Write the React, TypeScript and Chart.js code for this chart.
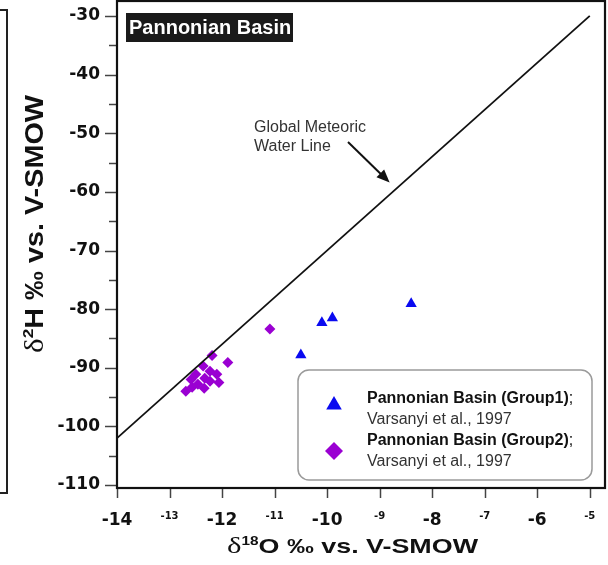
import React, { useEffect, useRef } from 'react';
import { Chart, registerables } from 'chart.js';
Chart.register(...registerables);

// Axis ranges / ticks
const xMin = -14;
const xMax = -4.71;
const yMin = -110.5;
const yMax = -27.45;
const xTickStep = 1;
const yTickStep = 5;

// Global Meteoric Water Line (δ2H = 8·δ18O + 10)
const gmwlX = [-14, -5];
const gmwlY = [-102, -30];

// Pannonian Basin (Group1)
const group1X = [-8.4, -9.9, -10.1, -10.5];
const group1Y = [-79.1, -81.5, -82.3, -87.8];

// Pannonian Basin (Group2)
const group2X = [-11.09, -12.19, -11.89, -12.36, -12.23, -12.10, -12.50, -12.33, -12.59, -12.06, -12.23, -12.69, -12.57, -12.34, -12.46];
const group2Y = [-83.4, -87.9, -89.1, -89.7, -90.6, -91.1, -91.1, -91.8, -92.0, -92.5, -92.3, -94.0, -93.3, -93.5, -92.8];

const SANS = '"Liberation Sans", Arial, sans-serif';
const SERIF = '"Liberation Serif", "DejaVu Serif", serif';
const TICKFONT = '"DejaVu Sans", sans-serif';

const BLUE = '#0a0af0';
const PURPLE = '#9a00d2';

function zip(xs: number[], ys: number[]) {
  return xs.map((x, i) => ({ x, y: ys[i] }));
}

type Seg = { text: string; font: string; dy: number };

function drawMixed(ctx: CanvasRenderingContext2D, segs: Seg[], x: number, y: number, rot: number, target: number) {
  ctx.save();
  let total = 0;
  const widths = segs.map((s) => {
    ctx.font = s.font;
    const w = ctx.measureText(s.text).width;
    total += w;
    return w;
  });
  const sc = target / total;
  ctx.translate(x, y);
  ctx.rotate(rot);
  ctx.scale(sc, 1);
  ctx.textBaseline = 'alphabetic';
  ctx.textAlign = 'left';
  ctx.fillStyle = '#111';
  let cx = -total / 2;
  segs.forEach((s, i) => {
    ctx.font = s.font;
    ctx.fillText(s.text, cx, s.dy);
    cx += widths[i];
  });
  ctx.restore();
}

function triangle(ctx: CanvasRenderingContext2D, x: number, y: number, r: number, color: string) {
  ctx.beginPath();
  for (let k = 0; k < 3; k++) {
    const a = (k * 2 * Math.PI) / 3;
    const px = x + Math.sin(a) * r;
    const py = y - Math.cos(a) * r;
    if (k === 0) ctx.moveTo(px, py);
    else ctx.lineTo(px, py);
  }
  ctx.closePath();
  ctx.fillStyle = color;
  ctx.fill();
}

function diamond(ctx: CanvasRenderingContext2D, x: number, y: number, r: number, color: string) {
  ctx.beginPath();
  ctx.moveTo(x - r, y);
  ctx.lineTo(x, y - r);
  ctx.lineTo(x + r, y);
  ctx.lineTo(x, y + r);
  ctx.closePath();
  ctx.fillStyle = color;
  ctx.fill();
}

const overlayPlugin = {
  id: 'overlay',
  afterDatasetsDraw(chart: any) {
    const ctx: CanvasRenderingContext2D = chart.ctx;
    const { left, right, top, bottom } = chart.chartArea;
    const xs = chart.scales.x;
    const ys = chart.scales.y;
    ctx.save();
    // tick marks
    ctx.strokeStyle = '#444';
    ctx.lineWidth = 1.5;
    ys.ticks.forEach((t: any) => {
      const py = Math.round(ys.getPixelForValue(t.value)) + 0.5;
      const len = t.value % 10 === 0 ? 12 : 8;
      ctx.beginPath();
      ctx.moveTo(left - len, py);
      ctx.lineTo(left, py);
      ctx.stroke();
    });
    xs.ticks.forEach((t: any) => {
      const px = Math.round(xs.getPixelForValue(t.value)) + 0.5;
      ctx.beginPath();
      ctx.moveTo(px, bottom);
      ctx.lineTo(px, bottom + 10);
      ctx.stroke();
    });
    // frame
    ctx.strokeStyle = '#111';
    ctx.lineWidth = 2.2;
    ctx.strokeRect(left, top, right - left, bottom - top);
    ctx.restore();
  },
  afterDraw(chart: any) {
    const ctx: CanvasRenderingContext2D = chart.ctx;
    const { left, bottom } = chart.chartArea;
    const xs = chart.scales.x;
    const ys = chart.scales.y;
    ctx.save();

    // partial frame of neighbouring panel at far left
    ctx.strokeStyle = '#222';
    ctx.lineWidth = 2;
    ctx.beginPath();
    ctx.moveTo(0, 10);
    ctx.lineTo(7, 10);
    ctx.lineTo(7, 493);
    ctx.lineTo(0, 493);
    ctx.stroke();

    // title box
    ctx.fillStyle = '#1a1a1a';
    ctx.fillRect(left + 9, 13, 167, 29);
    ctx.fillStyle = '#ffffff';
    ctx.font = 'bold 20px ' + SANS;
    ctx.textBaseline = 'alphabetic';
    ctx.textAlign = 'left';
    ctx.fillText('Pannonian Basin', left + 12, 34);

    // GMWL annotation
    ctx.fillStyle = '#333';
    ctx.font = '16px ' + SANS;
    ctx.fillText('Global Meteoric', 254, 132);
    ctx.fillText('Water Line', 254, 151);
    const tipX = xs.getPixelForValue(-8.81);
    const tipY = ys.getPixelForValue(-58.4);
    const sx = 348, sy = 142;
    const ang = Math.atan2(tipY - sy, tipX - sx);
    ctx.strokeStyle = '#111';
    ctx.lineWidth = 2;
    ctx.beginPath();
    ctx.moveTo(sx, sy);
    ctx.lineTo(tipX - Math.cos(ang) * 8, tipY - Math.sin(ang) * 8);
    ctx.stroke();
    ctx.fillStyle = '#111';
    ctx.beginPath();
    ctx.moveTo(tipX, tipY);
    ctx.lineTo(tipX - Math.cos(ang) * 13 + Math.sin(ang) * 5.5, tipY - Math.sin(ang) * 13 - Math.cos(ang) * 5.5);
    ctx.lineTo(tipX - Math.cos(ang) * 13 - Math.sin(ang) * 5.5, tipY - Math.sin(ang) * 13 + Math.cos(ang) * 5.5);
    ctx.closePath();
    ctx.fill();

    // legend
    const lx = 298, ly = 370, lw = 294, lh = 110, rr = 11;
    ctx.beginPath();
    ctx.moveTo(lx + rr, ly);
    ctx.arcTo(lx + lw, ly, lx + lw, ly + lh, rr);
    ctx.arcTo(lx + lw, ly + lh, lx, ly + lh, rr);
    ctx.arcTo(lx, ly + lh, lx, ly, rr);
    ctx.arcTo(lx, ly, lx + lw, ly, rr);
    ctx.closePath();
    ctx.fillStyle = '#ffffff';
    ctx.fill();
    ctx.strokeStyle = '#9a9a9a';
    ctx.lineWidth = 1.5;
    ctx.stroke();

    triangle(ctx, 334, 405, 9, BLUE);
    diamond(ctx, 334, 451, 9, PURPLE);

    const entries = [
      { name: 'Pannonian Basin (Group1)', y: 403 },
      { name: 'Pannonian Basin (Group2)', y: 445 },
    ];
    entries.forEach((e) => {
      ctx.font = 'bold 16px ' + SANS;
      ctx.fillStyle = '#111';
      ctx.fillText(e.name, 367, e.y);
      const w = ctx.measureText(e.name).width;
      ctx.font = '16px ' + SANS;
      ctx.fillText(';', 367 + w, e.y);
      ctx.fillStyle = '#333';
      ctx.fillText('Varsanyi et al., 1997', 367, e.y + 21);
    });

    // axis titles
    drawMixed(
      ctx,
      [
        { text: 'δ', font: '24px ' + SERIF, dy: 0 },
        { text: '18', font: 'bold 12px ' + SANS, dy: -8 },
        { text: 'O ‰ vs. V-SMOW', font: 'bold 21px ' + SANS, dy: 0 },
      ],
      352.5,
      bottom + 65,
      0,
      251
    );
    drawMixed(
      ctx,
      [
        { text: 'δ', font: '27px ' + SERIF, dy: 0 },
        { text: '2', font: 'bold 15px ' + SANS, dy: -10 },
        { text: 'H ‰ vs. V-SMOW', font: 'bold 25px ' + SANS, dy: 0 },
      ],
      43,
      224,
      -Math.PI / 2,
      258
    );

    ctx.restore();
  },
};

export default function App() {
  const ref = useRef<HTMLCanvasElement | null>(null);
  useEffect(() => {
    if (!ref.current) return;
    const chart = new Chart(ref.current, {
      type: 'scatter',
      data: {
        datasets: [
          {
            label: 'Global Meteoric Water Line',
            data: zip(gmwlX, gmwlY),
            showLine: true,
            borderColor: '#111',
            borderWidth: 1.8,
            pointRadius: 0,
            pointHoverRadius: 0,
          },
          {
            label: 'Pannonian Basin (Group1)',
            data: zip(group1X, group1Y),
            pointStyle: 'triangle',
            pointRadius: 6.5,
            backgroundColor: BLUE,
            borderColor: BLUE,
            borderWidth: 0,
          },
          {
            label: 'Pannonian Basin (Group2)',
            data: zip(group2X, group2Y),
            pointStyle: 'rectRot',
            pointRadius: 5.5,
            backgroundColor: PURPLE,
            borderColor: PURPLE,
            borderWidth: 0,
          },
        ],
      },
      options: {
        responsive: false,
        animation: false,
        events: [],
        layout: { autoPadding: false, padding: { top: 1, right: 3, left: 0, bottom: 0 } },
        plugins: { legend: { display: false }, tooltip: { enabled: false } },
        scales: {
          x: {
            type: 'linear',
            position: 'bottom',
            min: xMin,
            max: xMax,
            grid: { display: false, drawTicks: false },
            border: { display: false },
            ticks: {
              stepSize: xTickStep,
              includeBounds: false,
              autoSkip: false,
              maxRotation: 0,
              padding: 22,
              color: '#111',
              callback: (v: any) => String(v),
              font: (c: any) =>
                c.tick && Math.abs(c.tick.value) % 2 === 0
                  ? { family: TICKFONT, size: 17, weight: 'bold', lineHeight: 1.2 }
                  : { family: TICKFONT, size: 10, weight: 'bold', lineHeight: 1.2 },
            },
            afterFit: (s: any) => {
              s.height = 77;
              s.paddingLeft = 0;
              s.paddingRight = 0;
            },
          },
          y: {
            type: 'linear',
            min: yMin,
            max: yMax,
            grid: { display: false, drawTicks: false },
            border: { display: false },
            ticks: {
              stepSize: yTickStep,
              includeBounds: false,
              autoSkip: false,
              padding: 17,
              color: '#111',
              font: { family: TICKFONT, size: 17, weight: 'bold' },
              callback: (v: any) => (Number(v) % 10 === 0 ? String(v) : ''),
            },
            afterFit: (s: any) => {
              s.width = 117;
              s.paddingTop = 0;
              s.paddingBottom = 0;
            },
          },
        },
      },
      plugins: [overlayPlugin],
    } as any);
    return () => chart.destroy();
  }, []);
  return (
    <div style={{ position: 'fixed', left: 0, top: 0, width: 608, height: 565, background: '#fff' }}>
      <canvas ref={ref} width={608} height={565} style={{ display: 'block' }} />
    </div>
  );
}
